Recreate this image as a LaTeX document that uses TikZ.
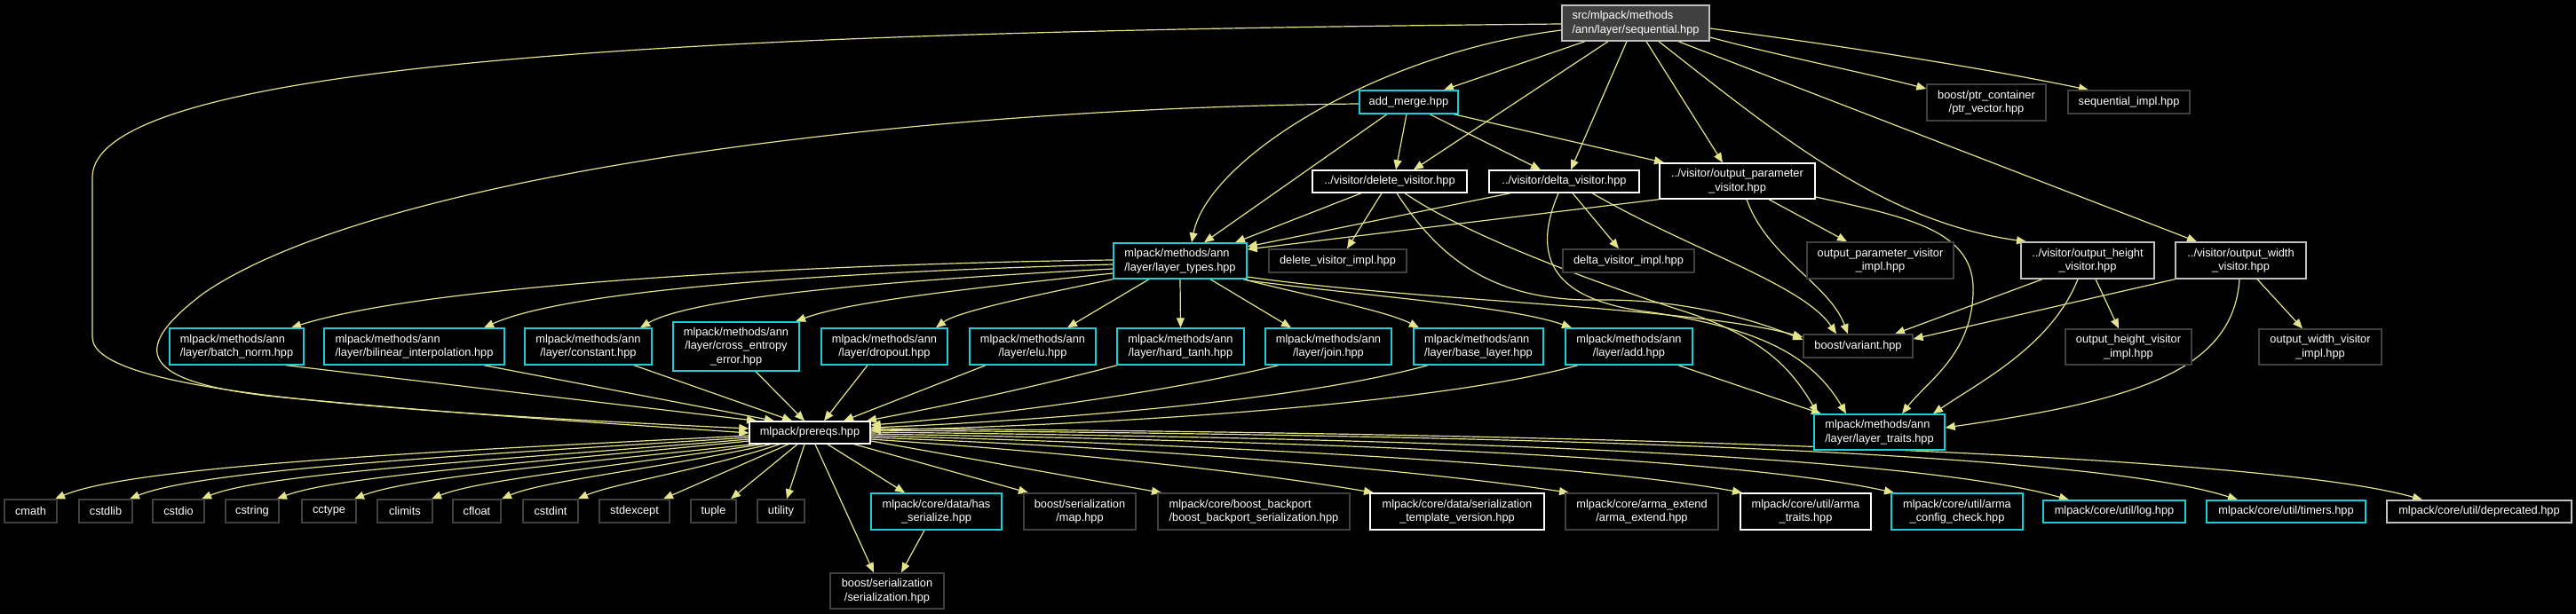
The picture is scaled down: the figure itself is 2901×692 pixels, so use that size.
\documentclass[tikz,border=0pt]{standalone}
\usepackage{fontspec}
\setmainfont{Liberation Sans}
\usetikzlibrary{arrows.meta,calc}
\definecolor{edgec}{RGB}{228,228,140}
\definecolor{cyanc}{RGB}{30,205,215}
\definecolor{dgray}{RGB}{64,64,64}
\definecolor{lgray}{RGB}{191,191,191}
\pgfdeclarelayer{bg}
\pgfdeclarelayer{edges}
\pgfsetlayers{bg,edges,main}
\tikzset{
  box/.style={rectangle, inner sep=0pt, text=white, fill=black, line width=1.4pt,
    font=\fontsize{12.8}{15.5}\selectfont},
  sz/.style 2 args={minimum width=#1pt, minimum height=#2pt},
  cy/.style={box, draw=cyanc},
  wh/.style={box, draw=white},
  lg/.style={box, draw=lgray},
  dg/.style={box, draw=dgray},
  sq/.style={box, draw=lgray, fill=dgray},
  e/.style={draw=edgec, line width=1.2pt, -{Triangle[length=11pt,width=9pt]}},
}
\begin{document}
\begin{tikzpicture}[x=1pt,y=-1pt]
\begin{pgfonlayer}{bg}
\fill[black] (0,0) rectangle (2901,692);
\end{pgfonlayer}
\useasboundingbox (0,0) rectangle (2901,692);
% top
\node[sq, sz={166}{40}, align=left] (seq) at (1842,26) {src/mlpack/methods\\/ann/layer/sequential.hpp};
\node[cy, sz={111}{26}] (am) at (1586.5,115) {add\_merge.hpp};
\node[dg, sz={134}{41}, align=center] (ptrv) at (2237,115.5) {boost/ptr\_container\\/ptr\_vector.hpp};
\node[dg, sz={137}{26}] (seqimpl) at (2397.5,115) {sequential\_impl.hpp};
% visitors
\node[wh, sz={174}{25}] (delv) at (1565,204.5) {../visitor/delete\_visitor.hpp};
\node[wh, sz={169}{25}] (deltav) at (1761.5,204.5) {../visitor/delta\_visitor.hpp};
\node[wh, sz={175}{40}, align=center] (opv) at (1956.5,204) {../visitor/output\_parameter\\\_visitor.hpp};
% row 3
\node[cy, sz={150}{40}, align=left] (lt) at (1329,294) {mlpack/methods/ann\\/layer/layer\_types.hpp};
\node[dg, sz={155}{26}] (delimpl) at (1506.5,294) {delete\_visitor\_impl.hpp};
\node[dg, sz={148}{26}] (deltaimpl) at (1834,294) {delta\_visitor\_impl.hpp};
\node[dg, sz={165}{41}, align=center] (opimpl) at (2117.5,293.5) {output\_parameter\_visitor\\\_impl.hpp};
\node[lg, sz={150}{41}, align=center] (ohv) at (2351,293.5) {../visitor/output\_height\\\_visitor.hpp};
\node[lg, sz={147}{41}, align=center] (owv) at (2523.5,293.5) {../visitor/output\_width\\\_visitor.hpp};
% layer row
\node[cy, sz={151}{41}, align=left] (bn) at (266.5,390.5) {mlpack/methods/ann\\/layer/batch\_norm.hpp};
\node[cy, sz={203}{41}, align=left] (bil) at (466.5,390.5) {mlpack/methods/ann\\/layer/bilinear\_interpolation.hpp};
\node[cy, sz={143}{41}, align=center] (cst) at (662.5,390.5) {mlpack/methods/ann\\/layer/constant.hpp};
\node[cy, sz={142}{55}, align=center] (cee) at (829,390.5) {mlpack/methods/ann\\/layer/cross\_entropy\\\_error.hpp};
\node[cy, sz={142}{41}, align=center] (drop) at (996,390.5) {mlpack/methods/ann\\/layer/dropout.hpp};
\node[cy, sz={142}{41}, align=center] (elu) at (1163,390.5) {mlpack/methods/ann\\/layer/elu.hpp};
\node[cy, sz={143}{41}, align=center] (ht) at (1329.5,390.5) {mlpack/methods/ann\\/layer/hard\_tanh.hpp};
\node[cy, sz={142}{41}, align=center] (join) at (1496,390.5) {mlpack/methods/ann\\/layer/join.hpp};
\node[cy, sz={146}{41}, align=left] (base) at (1665,390.5) {mlpack/methods/ann\\/layer/base\_layer.hpp};
\node[cy, sz={143}{41}, align=center] (add) at (1834.5,390.5) {mlpack/methods/ann\\/layer/add.hpp};
\node[dg, sz={123}{26}] (variant) at (2092.5,390) {boost/variant.hpp};
\node[dg, sz={142}{40}, align=center] (ohimpl) at (2397,391) {output\_height\_visitor\\\_impl.hpp};
\node[dg, sz={138}{40}, align=center] (owimpl) at (2613,391) {output\_width\_visitor\\\_impl.hpp};
\node[cy, sz={147}{40}, align=left] (traits) at (2116.5,487) {mlpack/methods/ann\\/layer/layer\_traits.hpp};
\node[wh, sz={136}{25}] (prereqs) at (912,487.5) {mlpack/prereqs.hpp};
% bottom row
\node[dg, sz={59}{26}] (cmath) at (34.5,576) {cmath};
\node[dg, sz={60}{26}] (cstdlib) at (119,576) {cstdlib};
\node[dg, sz={58}{26}] (cstdio) at (201,576) {cstdio};
\node[dg, sz={60}{26}] (cstring) at (284,576) {cstring};
\node[dg, sz={61}{26}] (cctype) at (370.5,576) {cctype};
\node[dg, sz={62}{26}] (climits) at (456,576) {climits};
\node[dg, sz={54}{26}] (cfloat) at (537,576) {cfloat};
\node[dg, sz={62}{26}] (cstdint) at (620,576) {cstdint};
\node[dg, sz={79}{26}] (stdexcept) at (714.5,576) {stdexcept};
\node[dg, sz={51}{26}] (tuple) at (803.5,576) {tuple};
\node[dg, sz={53}{26}] (utility) at (879.5,576) {utility};
\node[cy, sz={147}{41}, align=center] (hasser) at (1054.5,576.5) {mlpack/core/data/has\\\_serialize.hpp};
\node[dg, sz={126}{41}, align=center] (bsmap) at (1216,576.5) {boost/serialization\\/map.hpp};
\node[dg, sz={216}{41}, align=left] (backport) at (1412,576.5) {mlpack/core/boost\_backport\\/boost\_backport\_serialization.hpp};
\node[wh, sz={196}{41}, align=center] (tmplver) at (1641,576.5) {mlpack/core/data/serialization\\\_template\_version.hpp};
\node[dg, sz={172}{41}, align=center] (armaext) at (1849,576.5) {mlpack/core/arma\_extend\\/arma\_extend.hpp};
\node[wh, sz={147}{41}, align=center] (armatraits) at (2033.5,576.5) {mlpack/core/util/arma\\\_traits.hpp};
\node[cy, sz={148}{41}, align=center] (armacfg) at (2204,576.5) {mlpack/core/util/arma\\\_config\_check.hpp};
\node[cy, sz={160}{25}] (log) at (2381,576.5) {mlpack/core/util/log.hpp};
\node[cy, sz={179}{25}] (timers) at (2574.5,576.5) {mlpack/core/util/timers.hpp};
\node[lg, sz={208}{25}] (deprecated) at (2792,576.5) {mlpack/core/util/deprecated.hpp};
\node[dg, sz={128}{40}, align=center] (bser) at (999,666) {boost/serialization\\/serialization.hpp};

\begin{pgfonlayer}{edges}
% sequential
\draw[e] (seq.west |- 0,27) .. controls (900,35) and (104,60) .. (104,200) -- (104,380) .. controls (104,440) and (400,462) .. (prereqs.west |- 0,483);
\draw[e] (seq.west |- 0,34) .. controls (1550,60) and (1360,180) .. (lt.north -| 1342,0);
\draw[e] (seq.south -| 1785,0) -- (am.north -| 1626,0);
\draw[e] (seq.south -| 1811,0) -- (delv.north -| 1592,0);
\draw[e] (seq.south -| 1832,0) -- (deltav.north -| 1769,0);
\draw[e] (seq.south -| 1854,0) -- (opv.north -| 1940,0);
\draw[e] (seq.south -| 1868,0) .. controls (2000,150) and (2120,250) .. (ohv.north -| 2282,0);
\draw[e] (seq.south -| 1890,0) -- (owv.north -| 2474,0);
\draw[e] (seq.east |- 0,42) .. controls (2000,62) and (2100,82) .. (ptrv.west |- 0,100);
\draw[e] (seq.east |- 0,32) .. controls (2100,55) and (2250,80) .. (seqimpl.north -| 2352,0);
% add_merge
\draw[e] (am.west |- 0,117) .. controls (1000,122) and (420,200) .. (230,330) .. controls (150,390) and (150,428) .. (300,446) .. controls (500,466) and (700,478) .. (prereqs.west |- 0,488);
\draw[e] (am.south -| 1562,0) -- (lt.north -| 1356,0);
\draw[e] (am.south -| 1584,0) -- (delv.north -| 1572,0);
\draw[e] (am.south -| 1610,0) -- (deltav.north -| 1735,0);
\draw[e] (am.south -| 1637,0) -- (opv.north -| 1874,0);
% delete visitor
\draw[e] (delv.south -| 1533,0) -- (lt.north -| 1391,0);
\draw[e] (delv.south -| 1556,0) -- (delimpl.north -| 1517,0);
\draw[e] (delv.south -| 1573,0) .. controls (1620,290) and (1680,340) .. (1800,338) .. controls (1900,337) and (1980,362) .. (variant.west |- 0,383);
\draw[e] (delv.south -| 1582,0) .. controls (1650,265) and (1800,320) .. (1900,352) .. controls (1990,382) and (2020,420) .. (traits.north -| 2047,0);
% layer_types -> variant
\draw[e] (lt.east |- 0,312) .. controls (1600,340) and (1900,345) .. (variant.west |- 0,380);
% delta visitor
\draw[e] (deltav.south -| 1701,0) -- (lt.east |- 0,278);
\draw[e] (deltav.south -| 1771,0) -- (deltaimpl.north -| 1823,0);
\draw[e] (deltav.south -| 1793,0) .. controls (1900,280) and (2030,320) .. (variant.north -| 2068,0);
\draw[e] (deltav.south -| 1755,0) .. controls (1720,300) and (1760,340) .. (1860,352) .. controls (1980,370) and (2040,400) .. (traits.north -| 2079,0);
% output parameter visitor
\draw[e] (opv.south west) -- (lt.east |- 0,281);
\draw[e] (opv.south -| 1992,0) -- (opimpl.north -| 2080,0);
\draw[e] (opv.south -| 1967,0) .. controls (1990,290) and (2060,320) .. (variant.north -| 2081,0);
\draw[e] (opv.east |- 0,222) .. controls (2150,245) and (2225,260) .. (2222,330) .. controls (2220,400) and (2170,430) .. (traits.north -| 2142,0);
% output height visitor
\draw[e] (ohv.south -| 2300,0) -- (variant.north -| 2134,0);
\draw[e] (ohv.south -| 2360,0) -- (ohimpl.north -| 2386,0);
\draw[e] (ohv.south -| 2340,0) .. controls (2310,390) and (2230,430) .. (traits.north -| 2177,0);
% output width visitor
\draw[e] (owv.south west) -- (variant.east |- 0,382);
\draw[e] (owv.south -| 2542,0) -- (owimpl.north -| 2593,0);
\draw[e] (owv.south -| 2522,0) .. controls (2515,420) and (2400,452) .. (traits.east |- 0,482);
% add -> traits
\draw[e] (add.south -| 1890,0) -- (traits.north -| 2051,0);
% layer_types -> layers
\draw[e] (lt.west |- 0,293) .. controls (1000,296) and (500,315) .. (bn.north -| 328,0);
\draw[e] (lt.west |- 0,298) .. controls (1000,305) and (650,322) .. (bil.north -| 545,0);
\draw[e] (lt.west |- 0,303) .. controls (1000,316) and (780,335) .. (cst.north -| 721,0);
\draw[e] (lt.west |- 0,308) .. controls (1060,328) and (950,342) .. (cee.north -| 896,0);
\draw[e] (lt.south west) .. controls (1180,330) and (1080,350) .. (drop.north -| 1054,0);
\draw[e] (lt.south -| 1294,0) -- (elu.north -| 1202,0);
\draw[e] (lt.south) -- (ht.north);
\draw[e] (lt.south -| 1363,0) -- (join.north -| 1454,0);
\draw[e] (lt.south -| 1400,0) .. controls (1480,335) and (1560,350) .. (base.north -| 1598,0);
\draw[e] (lt.east |- 0,316) .. controls (1550,335) and (1700,345) .. (add.north -| 1770,0);
% layers -> prereqs
\draw[e] (bn.south -| 322,0) -- (prereqs.north -| 852,0);
\draw[e] (bil.south -| 545,0) -- (prereqs.north -| 872,0);
\draw[e] (cst.south -| 714,0) -- (prereqs.north -| 892,0);
\draw[e] (cee.south -| 851,0) -- (prereqs.north -| 906,0);
\draw[e] (drop.south -| 977,0) -- (prereqs.north -| 928,0);
\draw[e] (elu.south -| 1110,0) -- (prereqs.north -| 950,0);
\draw[e] (ht.south -| 1258,0) .. controls (1150,440) and (1050,460) .. (prereqs.north -| 976,0);
\draw[e] (join.south -| 1440,0) .. controls (1300,445) and (1100,470) .. (prereqs.east |- 0,479);
\draw[e] (base.south -| 1608,0) .. controls (1450,455) and (1150,475) .. (prereqs.east |- 0,482);
\draw[e] (add.south -| 1777,0) .. controls (1600,460) and (1200,480) .. (prereqs.east |- 0,485);
% prereqs -> bottom
\draw[e] (prereqs.west |- 0,491) .. controls (500,508) and (150,525) .. (cmath.north -| 62,0);
\draw[e] (prereqs.west |- 0,493) .. controls (550,512) and (230,528) .. (cstdlib.north -| 146,0);
\draw[e] (prereqs.west |- 0,495) .. controls (600,516) and (300,532) .. (cstdio.north -| 227,0);
\draw[e] (prereqs.west |- 0,497) .. controls (620,520) and (380,536) .. (cstring.north -| 312,0);
\draw[e] (prereqs.south -| 848,0) .. controls (650,522) and (460,538) .. (cctype.north -| 399,0);
\draw[e] (prereqs.south -| 858,0) .. controls (700,525) and (540,540) .. (climits.north -| 486,0);
\draw[e] (prereqs.south -| 868,0) .. controls (750,527) and (610,542) .. (cfloat.north -| 565,0);
\draw[e] (prereqs.south -| 878,0) .. controls (790,530) and (690,545) .. (cstdint.north -| 651,0);
\draw[e] (prereqs.south -| 888,0) -- (stdexcept.north -| 747,0);
\draw[e] (prereqs.south -| 898,0) -- (tuple.north -| 823,0);
\draw[e] (prereqs.south -| 906,0) -- (utility.north -| 886,0);
\draw[e] (prereqs.south -| 918,0) -- (bser.north -| 984,0);
\draw[e] (prereqs.south -| 932,0) -- (hasser.north -| 1019,0);
\draw[e] (prereqs.south -| 962,0) -- (bsmap.north -| 1158,0);
\draw[e] (prereqs.east |- 0,497) -- (backport.north -| 1308,0);
\draw[e] (prereqs.east |- 0,495) .. controls (1200,510) and (1400,530) .. (tmplver.north -| 1547,0);
\draw[e] (prereqs.east |- 0,493) .. controls (1300,505) and (1600,530) .. (armaext.north -| 1767,0);
\draw[e] (prereqs.east |- 0,491) .. controls (1400,502) and (1800,525) .. (armatraits.north -| 1962,0);
\draw[e] (prereqs.east |- 0,489) .. controls (1500,498) and (1950,515) .. (armacfg.north -| 2133,0);
\draw[e] (prereqs.east |- 0,487) .. controls (1600,494) and (2150,512) .. (log.north -| 2330,0);
\draw[e] (prereqs.east |- 0,485) .. controls (1700,490) and (2350,508) .. (timers.north -| 2520,0);
\draw[e] (prereqs.east |- 0,483) .. controls (1800,488) and (2550,512) .. (deprecated.north -| 2728,0);
\draw[e] (hasser.south -| 1041,0) -- (bser.north -| 1015,0);
\end{pgfonlayer}
\end{tikzpicture}
\end{document}
